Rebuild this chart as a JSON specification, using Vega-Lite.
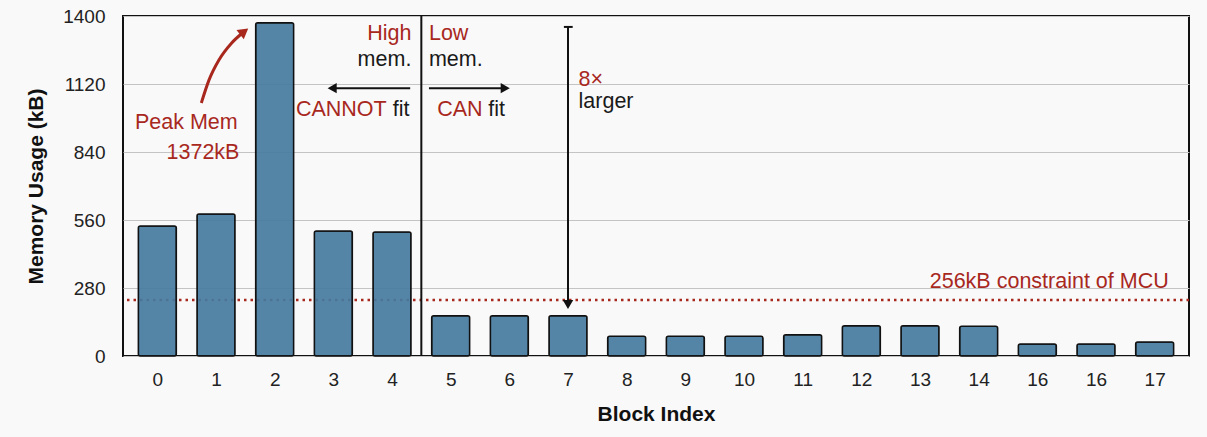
{
  "$schema": "https://vega.github.io/schema/vega-lite/v6.json",
  "width": 1066,
  "height": 340,
  "autosize": {"type": "none"},
  "padding": {"left": 123, "top": 16, "right": 18, "bottom": 81},
  "background": "#f9f9f9",
  "config": {
    "font": "Liberation Sans",
    "view": {"stroke": "#111", "strokeWidth": 2},
    "axis": {"labelFont": "Liberation Sans", "titleFont": "Liberation Sans"}
  },
  "datasets": {
    "blocks": [
      {"block": 0, "mem": 535},
      {"block": 1, "mem": 585},
      {"block": 2, "mem": 1372},
      {"block": 3, "mem": 515},
      {"block": 4, "mem": 511},
      {"block": 5, "mem": 166},
      {"block": 6, "mem": 166},
      {"block": 7, "mem": 166},
      {"block": 8, "mem": 81},
      {"block": 9, "mem": 81},
      {"block": 10, "mem": 81},
      {"block": 11, "mem": 88},
      {"block": 12, "mem": 125},
      {"block": 13, "mem": 125},
      {"block": 14, "mem": 122},
      {"block": 15, "mem": 49},
      {"block": 16, "mem": 49},
      {"block": 17, "mem": 58}
    ],
    "textsRight": [
      {"x": 1.37, "y": 959, "text": "Peak Mem", "kind": "red"},
      {"x": 1.40, "y": 836, "text": "1372kB", "kind": "red"},
      {"x": 4.33, "y": 1326, "text": "High", "kind": "red"},
      {"x": 4.33, "y": 1219, "text": "mem.", "kind": "black"},
      {"x": 3.91, "y": 1013, "text": "CANNOT", "kind": "red"},
      {"x": 4.30, "y": 1013, "text": "fit", "kind": "black"},
      {"x": 17.24, "y": 305, "text": "256kB constraint of MCU", "kind": "red"}
    ],
    "textsLeft": [
      {"x": 4.63, "y": 1326, "text": "Low", "kind": "red"},
      {"x": 4.63, "y": 1219, "text": "mem.", "kind": "black"},
      {"x": 4.77, "y": 1013, "text": "CAN", "kind": "red"},
      {"x": 5.64, "y": 1013, "text": "fit", "kind": "black"},
      {"x": 7.18, "y": 1138, "text": "8×", "kind": "red"},
      {"x": 7.18, "y": 1044, "text": "larger", "kind": "black"}
    ]
  },
  "layer": [
    {
      "data": {"values": [{"limit": 231}]},
      "mark": {"type": "rule", "color": "#a8281e", "strokeWidth": 2.5, "strokeDash": [2.5, 4]},
      "encoding": {"y": {"field": "limit", "type": "quantitative", "scale": {"domain": [0, 1400]}}}
    },
    {
      "data": {"name": "blocks"},
      "mark": {"type": "bar", "width": 38, "fill": "#457ba0", "fillOpacity": 0.92, "stroke": "#111", "strokeWidth": 1.5, "cornerRadius": 2},
      "encoding": {
        "x": {
          "field": "block", "type": "quantitative",
          "scale": {"domain": [-0.5, 17.5], "nice": false, "zero": false},
          "axis": {
            "values": [0,1,2,3,4,5,6,7,8,9,10,11,12,13,14,15,16,17],
            "labelExpr": "datum.value == 15 ? '16' : datum.value",
            "grid": false, "ticks": false, "domain": false,
            "labelFontSize": 19, "labelColor": "#222", "labelPadding": 14,
            "title": "Block Index", "titleFontSize": 21, "titleFontWeight": "bold",
            "titleColor": "#111", "titlePadding": 14
          }
        },
        "y": {
          "field": "mem", "type": "quantitative",
          "scale": {"domain": [0, 1400], "nice": false},
          "axis": {
            "values": [0, 280, 560, 840, 1120, 1400],
            "format": "d",
            "grid": true, "gridColor": "#c4c4c4", "gridWidth": 1.2,
            "ticks": false, "domain": false,
            "labelFontSize": 19, "labelColor": "#222", "labelPadding": 18,
            "title": "Memory Usage (kB)", "titleFontSize": 21, "titleFontWeight": "bold",
            "titleColor": "#111", "titlePadding": 16
          }
        }
      }
    },
    {
      "data": {"values": [{"x": 4.5}]},
      "mark": {"type": "rule", "color": "#111", "strokeWidth": 2},
      "encoding": {"x": {"field": "x", "type": "quantitative"}}
    },
    {
      "data": {"values": [
        {"x": 4.31, "x2": 3.0, "y": 1103},
        {"x": 4.63, "x2": 5.92, "y": 1103},
        {"x": 6.93, "x2": 7.08, "y": 1355}
      ]},
      "mark": {"type": "rule", "color": "#111", "strokeWidth": 2},
      "encoding": {
        "x": {"field": "x", "type": "quantitative"},
        "x2": {"field": "x2"},
        "y": {"field": "y", "type": "quantitative"}
      }
    },
    {
      "data": {"values": [{"x": 7.0, "y": 1355, "y2": 222}]},
      "mark": {"type": "rule", "color": "#111", "strokeWidth": 2},
      "encoding": {
        "x": {"field": "x", "type": "quantitative"},
        "y": {"field": "y", "type": "quantitative"},
        "y2": {"field": "y2"}
      }
    },
    {
      "data": {"values": [
        {"x": 2.98, "y": 1103, "dir": "triangle-left"},
        {"x": 5.93, "y": 1103, "dir": "triangle-right"},
        {"x": 7.0, "y": 212, "dir": "triangle-down"}
      ]},
      "mark": {"type": "point", "filled": true, "color": "#111", "size": 110, "opacity": 1},
      "encoding": {
        "x": {"field": "x", "type": "quantitative"},
        "y": {"field": "y", "type": "quantitative"},
        "shape": {"field": "dir", "type": "nominal", "scale": {"domain": ["triangle-left", "triangle-right", "triangle-down"], "range": ["triangle-left", "triangle-right", "triangle-down"]}, "legend": null}
      }
    },
    {
      "data": {"values": [
        {"x": 0.75, "y": 1042, "o": 0},
        {"x": 0.88, "y": 1136, "o": 1},
        {"x": 1.05, "y": 1219, "o": 2},
        {"x": 1.26, "y": 1287, "o": 3},
        {"x": 1.45, "y": 1330, "o": 4}
      ]},
      "mark": {"type": "line", "color": "#a8281e", "strokeWidth": 3, "interpolate": "monotone"},
      "encoding": {
        "x": {"field": "x", "type": "quantitative"},
        "y": {"field": "y", "type": "quantitative"},
        "order": {"field": "o"}
      }
    },
    {
      "data": {"values": [{"x": 1.48, "y": 1336}]},
      "mark": {"type": "point", "shape": "triangle-up", "angle": 52, "filled": true, "color": "#a8281e", "size": 140, "opacity": 1},
      "encoding": {
        "x": {"field": "x", "type": "quantitative"},
        "y": {"field": "y", "type": "quantitative"}
      }
    },
    {
      "data": {"name": "textsRight"},
      "mark": {"type": "text", "align": "right", "baseline": "middle", "fontSize": 21.5, "font": "Liberation Sans"},
      "encoding": {
        "x": {"field": "x", "type": "quantitative"},
        "y": {"field": "y", "type": "quantitative"},
        "text": {"field": "text"},
        "color": {"field": "kind", "type": "nominal", "scale": {"domain": ["red", "black"], "range": ["#a8281e", "#1a1a1a"]}, "legend": null}
      }
    },
    {
      "data": {"name": "textsLeft"},
      "mark": {"type": "text", "align": "left", "baseline": "middle", "fontSize": 21.5, "font": "Liberation Sans"},
      "encoding": {
        "x": {"field": "x", "type": "quantitative"},
        "y": {"field": "y", "type": "quantitative"},
        "text": {"field": "text"},
        "color": {"field": "kind", "type": "nominal", "scale": {"domain": ["red", "black"], "range": ["#a8281e", "#1a1a1a"]}, "legend": null}
      }
    }
  ]
}
